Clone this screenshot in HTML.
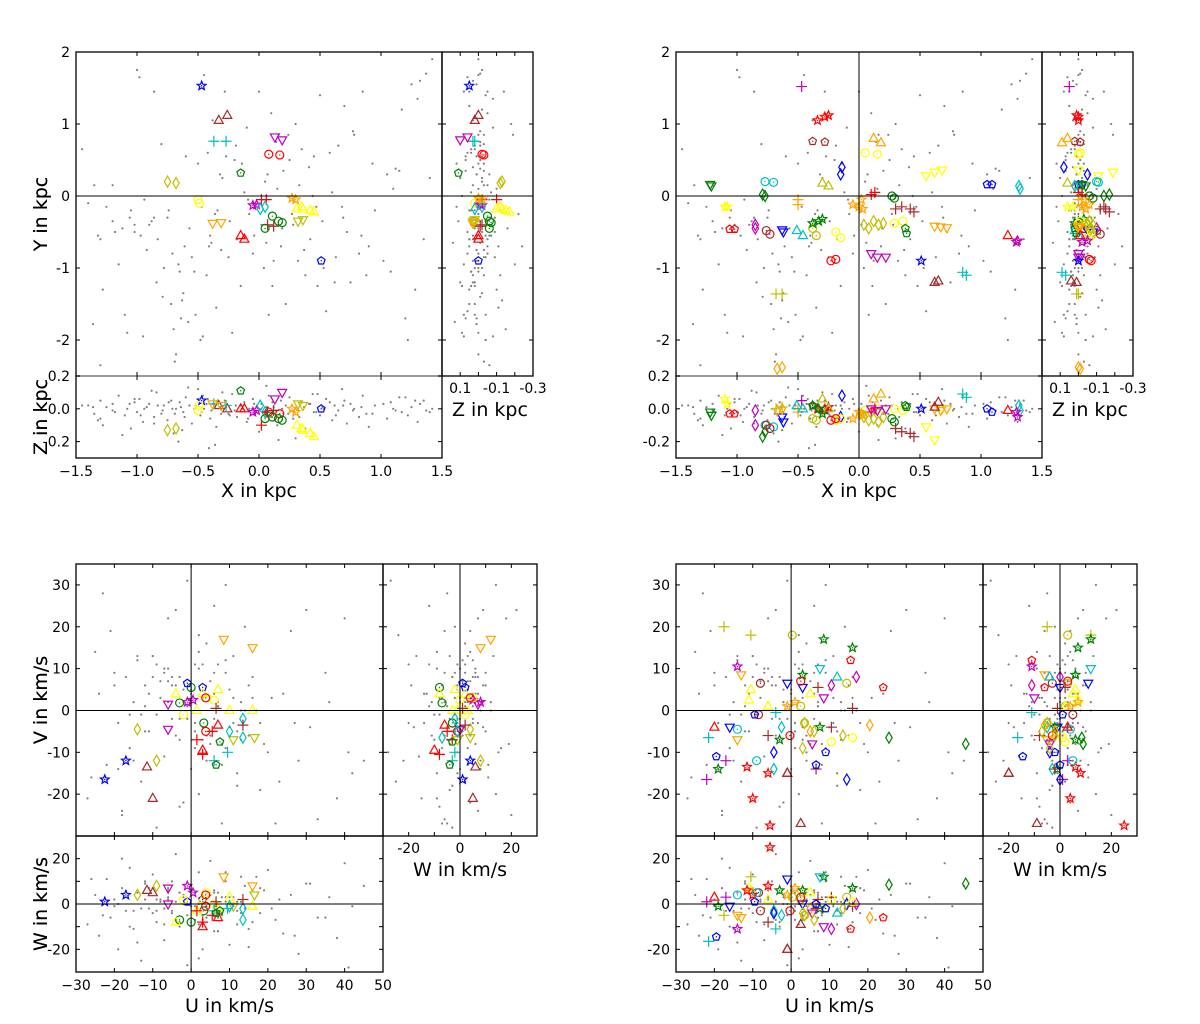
<!DOCTYPE html>
<html><head><meta charset="utf-8"><style>
html,body{margin:0;padding:0;background:#fff;}
svg{display:block;font-family:"DejaVu Sans","Liberation Sans",sans-serif;}
</style></head><body>
<svg id="chart" width="1200" height="1024" viewBox="0 0 1200 1024"></svg>
<script>
// ---------- field stars (gray) ----------
const fieldX=[-1.45,-1.35,-1.3,-1.28,-1.36,-1.3,-1.2,-1.2,-1.15,-1.1,-1.08,-1.05,-1.02,-1.0,-0.98,-0.95,-0.92,-0.9,-0.86,-0.84,-0.8,-0.78,-0.75,-0.72,-0.7,-0.68,-0.65,-0.62,-0.6,-0.55,-0.52,-0.5,-0.48,-0.45,-0.42,-0.4,-0.38,-0.35,-0.32,-0.28,-0.25,-0.22,-0.2,-0.18,-0.15,-0.12,-0.1,-0.08,-0.05,0.0,0.02,0.05,0.08,0.1,0.12,0.15,0.18,0.2,0.22,0.25,0.28,0.32,0.35,0.38,0.42,0.45,0.48,0.5,0.52,0.55,0.6,0.62,0.65,0.7,0.72,0.75,0.78,0.82,0.85,0.88,0.95,1.05,1.08,1.12,1.2,1.22,1.25,1.3,1.32,1.35,1.4,1.42,-1.12,-0.88,-0.66,-0.58,-0.36,-0.3,0.3,0.68,
-1.25,-1.18,-1.06,-0.97,-0.94,-0.83,-0.79,-0.74,-0.69,-0.64,-0.61,-0.57,-0.53,-0.47,-0.43,-0.39,-0.34,-0.31,-0.27,-0.24,-0.19,-0.14,-0.09,-0.04,0.04,0.07,0.11,0.14,0.19,0.24,0.27,0.33,0.37,0.41,0.47,0.53,0.58,0.63,0.69,0.77,0.84,0.93,1.02,1.1,1.17,1.28,1.37,-1.4,-1.32,-1.02,-0.86,-0.71,-0.63,-0.46,-0.41,0.06,0.16,0.44,0.9,1.15];
const fieldY=[0.65,0.15,-0.6,-1.3,-1.78,-2.35,0.15,-0.35,-0.95,-1.65,-1.9,-0.2,-0.4,1.75,1.65,-1.95,-0.75,-0.4,1.45,-1.2,0.72,-1.0,-0.3,-1.5,-1.85,-2.2,-1.05,-1.35,0.55,-0.85,-1.65,0.45,-2.0,1.68,0.6,-0.55,1.05,-1.55,0.3,1.45,-0.85,-1.9,0.5,-0.6,-1.25,0.05,0.95,-0.25,-0.8,1.45,-0.4,0.2,-1.65,1.15,-0.9,0.1,-0.7,0.35,-1.5,0.5,-0.4,-0.9,0.65,-1.1,-0.6,0.55,-1.25,1.4,-0.35,-1.6,0.05,-1.2,0.7,1.25,-0.5,-1.2,0.85,-0.8,1.45,-1.1,-0.2,0.3,-1.05,0.38,-1.7,-2.0,1.55,1.35,1.6,-0.6,0.25,1.9,-0.45,-0.35,-0.95,-1.75,-0.25,0.25,1.0,-0.15,
-0.15,-0.5,-0.3,-0.55,-0.05,-0.6,-1.4,-0.2,-2.3,-1.7,-0.7,-0.45,-1.05,-0.15,-1.1,-0.65,-0.2,-0.75,0.55,-0.35,0.7,0.45,-0.05,-0.55,-1.0,0.3,-1.25,0.75,-0.45,0.85,-0.25,0.15,-0.75,0.4,-0.15,-1.0,0.6,-0.85,-0.3,0.9,-0.55,0.45,-0.9,0.1,1.2,-1.3,1.7,-0.1,-0.55,-0.5,-0.3,-0.8,-1.45,-1.95,-0.7,-0.65,0.85,0.0,-0.7,0.35];
const fieldZ=[0.02,-0.03,0.05,-0.1,0.01,-0.06,0.03,-0.01,0.08,-0.04,0.0,-0.12,0.04,-0.02,0.06,-0.08,0.01,0.03,-0.05,0.1,-0.03,0.02,-0.07,0.05,-0.15,0.0,0.04,-0.02,0.07,-0.09,0.02,0.12,-0.04,0.0,0.06,-0.06,0.03,-0.11,0.01,0.05,-0.03,0.09,-0.01,-0.05,0.02,0.04,-0.08,0.0,0.06,-0.14,0.03,-0.02,0.08,-0.05,0.01,-0.1,0.05,-0.03,0.02,0.07,-0.06,0.0,0.04,-0.12,0.03,-0.02,0.09,-0.04,0.01,0.06,-0.07,0.02,-0.01,0.05,-0.09,0.03,0.0,-0.05,0.08,-0.03,0.02,-0.06,0.04,-0.01,0.07,-0.04,0.01,-0.08,0.03,0.05,-0.02,0.0,-0.16,0.11,-0.2,0.13,-0.22,0.1,-0.18,0.12,
0.01,-0.02,0.03,-0.04,0.0,0.02,-0.01,0.04,-0.03,0.01,-0.05,0.02,0.0,-0.02,0.03,-0.01,0.05,-0.03,0.01,-0.04,0.02,0.0,-0.06,0.03,-0.02,0.01,0.04,-0.01,0.0,-0.03,0.02,-0.05,0.01,0.03,-0.02,0.0,0.04,-0.04,0.02,-0.01,0.01,-0.03,0.03,0.0,-0.02,0.05,-0.01,0.02,-0.07,0.06,-0.09,0.0,-0.13,0.08,-0.24,0.14,-0.19,0.09,-0.11,0.07];
const fieldU=[-27,-25,-24,-22,-21,-20,-19,-18,-17,-16,-15,-14,-13,-12,-11,-10,-9,-8,-7,-6,-5,-4,-3,-2,-1,0,1,2,3,4,5,6,7,8,9,10,11,12,13,14,15,16,18,20,22,24,26,28,30,33,36,38,40,42,45,-26,-23,-18,-14,-9,-6,-3,-1,2,4,7,9,12,15,19,23,27,31,35,41,-20,-12,-7,-2,3,8,13,17,21,-16,-10,-4,1,6,11,
-8,-5,-3,0,2,5,7,9,-11,-13,-6,-1,3,6,8,11,-9,-4,1,4,10,14,-15,-2,2,5,12,-7,0,3,-12,-5,6,9,16,-19,-3,1,7,13,18,-10,-6,4];
const fieldV=[-21,14,4,-13,19,9,-3,-24,8,-9,2,12,-17,6,-5,13,-1,7,-11,10,-2,24,-7,5,31,-14,11,-20,3,16,-8,25,1,-27,9,-4,13,-15,2,20,-6,8,-19,-10,-27,4,19,-12,24,-26,2,-21,22,-15,-12,-16,28,-25,13,-28,22,-23,-2,18,-12,1,30,-18,6,-8,-17,-3,-4,9,-10,6,-5,10,-22,11,-13,-7,0,3,-1,8,-6,-9,4,-3,
3,8,-2,5,10,-6,2,12,4,-1,7,1,-4,9,-8,3,11,6,-3,-10,5,0,-12,2,14,7,-5,9,4,-7,1,6,-2,-9,3,-14,8,-5,11,0,-3,13,2,-6];
const fieldW=[-9,4,-14,11,-6,2,-20,7,-3,16,-11,5,-25,9,-2,13,-8,1,-16,6,-4,22,-10,3,-27,8,-1,14,-7,2,19,-12,5,-5,10,-18,3,-9,12,-2,-11,6,-4,15,-7,-13,4,-22,9,-6,3,-15,18,-1,8,11,-5,20,-17,-3,7,-8,0,-24,5,-12,14,-3,-19,6,2,-14,9,-6,-28,-1,10,-9,4,-20,3,-4,12,-2,-10,7,1,-7,5,-1,
2,-3,5,-1,0,4,-6,1,7,-2,3,-5,1,6,-4,0,2,-7,5,-1,3,8,-3,0,-9,4,1,-2,6,-5,2,10,-1,3,-8,0,5,-3,-12,1,7,-4,2,-6];

// ---------- top-left groups (X,Y,Z in kpc) ----------
const tlColor=["#0000ff","#a52a2a","#00bfbf","#bf00bf","#ff0000","#008000","#bfbf00","#ffff00","#ffa500","#ff0000","#ff0000","#bf00bf","#00bfbf","#a52a2a","#008000","#ffa500","#ffff00","#bfbf00","#0000ff"];
const tlMarker=["star","tri","plus","dtri","circle","pent","diam","circle","dtri","tri","plus","star","diam","plus","circle","star","tri","dtri","pent"];
const tlX=[[-0.47],[-0.33,-0.26],[-0.37,-0.27],[0.13,0.19],[0.08,0.17],[-0.15],[-0.75,-0.68],[-0.5,-0.49],[-0.38,-0.31],[-0.15,-0.12],[0.02,0.06],[-0.05,-0.02],[0.01,0.05],[0.07,0.12],[0.05,0.16,0.19,0.11],[0.27,0.3],[0.31,0.36,0.42,0.45,0.35],[0.32,0.36],[0.51]];
const tlY=[[1.53],[1.05,1.12],[0.76,0.76],[0.82,0.78],[0.58,0.57],[0.32],[0.2,0.18],[-0.05,-0.1],[-0.38,-0.37],[-0.55,-0.6],[-0.05,-0.05],[-0.13,-0.12],[-0.18,-0.15],[-0.4,-0.42],[-0.45,-0.35,-0.37,-0.28],[-0.03,-0.05],[-0.18,-0.18,-0.2,-0.22,-0.15],[-0.35,-0.33],[-0.9]];
const tlZ=[[0.05],[0.02,0.0],[0.03,0.02],[0.06,0.1],[-0.02,-0.03],[0.11],[-0.13,-0.12],[-0.01,0.02],[0.03,0.02],[0.0,0.0],[-0.1,-0.02],[-0.02,-0.01],[0.02,-0.02],[-0.02,-0.01],[-0.06,-0.06,-0.07,-0.05],[0.0,-0.02],[-0.1,-0.13,-0.15,-0.17,-0.12],[0.03,0.02],[0.0]];

// ---------- top-right groups ----------
const trColor=["#bf00bf","#ff0000","#a52a2a","#ffa500","#ffff00","#0000ff","#bfbf00","#ffff00","#0000ff","#00bfbf","#008000","#00bfbf","#008000","#ff0000","#008000","#ffa500","#ffff00","#ffa500","#a52a2a","#ff0000","#bf00bf","#a52a2a","#0000ff","#00bfbf","#bfbf00","#008000","#ffff00","#bfbf00","#ffff00","#008000","#ffa500","#ff0000","#bf00bf","#0000ff","#00bfbf","#a52a2a","#ff0000","#bf00bf","#bfbf00","#ffa500"];
const trMarker=["plus","star","pent","tri","circle","diam","tri","dtri","pent","diam","dtri","circle","diam","plus","circle","plus","star","star","plus","pent","diam","circle","dtri","tri","circle","star","circle","diam","circle","pent","dtri","circle","dtri","star","plus","tri","tri","star","plus","diam"];
const trX=[[-0.47],[-0.34,-0.28,-0.25],[-0.38,-0.28],[0.12,0.18],[0.05,0.15],[-0.14,-0.15],[-0.3,-0.25],[0.55,0.62,0.68],[1.05,1.09],[1.31,1.32],[-1.22,-1.21],[-0.77,-0.7],[-0.79,-0.77],[0.1,0.13],[0.27,0.29],[-0.5,-0.5],[-1.1,-1.08],[0.0,0.03,-0.05,0.02],[0.3,0.35,0.42,0.45],[-1.06,-1.02],[-0.85,-0.85],[-0.76,-0.73],[-0.63,-0.62],[-0.51,-0.46],[-0.38,-0.35],[-0.38,-0.33,-0.3],[-0.19,-0.15],[0.04,0.08,0.12,0.16,0.2],[0.29,0.36],[0.38,0.39],[0.62,0.67,0.72],[-0.23,-0.19],[0.1,0.15,0.22],[0.51],[0.85,0.88],[0.62,0.65],[1.22],[1.29,1.3],[-0.68,-0.63],[-0.67,-0.63]];
const trY=[[1.52],[1.05,1.1,1.12],[0.76,0.75],[0.8,0.74],[0.6,0.58],[0.4,0.3],[0.18,0.14],[0.28,0.33,0.36],[0.16,0.16],[0.14,0.1],[0.16,0.14],[0.2,0.19],[0.02,0.0],[0.02,0.05],[0.0,-0.03],[-0.05,-0.12],[-0.15,-0.15],[-0.15,-0.18,-0.12,-0.05],[-0.18,-0.15,-0.18,-0.22],[-0.46,-0.46],[-0.4,-0.45],[-0.48,-0.53],[-0.47,-0.5],[-0.48,-0.55],[-0.45,-0.55],[-0.38,-0.35,-0.32],[-0.5,-0.58],[-0.4,-0.45,-0.35,-0.4,-0.38],[-0.38,-0.35],[-0.45,-0.52],[-0.42,-0.43,-0.44],[-0.9,-0.88],[-0.8,-0.85,-0.85],[-0.9],[-1.06,-1.1],[-1.2,-1.18],[-0.55],[-0.64,-0.62],[-1.36,-1.36],[-2.4,-2.38]];
const trZ=[[0.05],[0.0,0.0,0.01],[0.02,-0.01],[0.06,0.09],[-0.01,0.0],[0.08,-0.05],[0.06,0.0],[-0.11,-0.19,0.0],[0.0,-0.02],[0.02,-0.01],[-0.02,-0.04],[-0.1,-0.11],[-0.17,-0.14],[-0.02,0.0],[-0.06,-0.08],[0.0,-0.02],[0.06,0.03],[-0.02,-0.04,-0.06,-0.03],[-0.12,-0.14,-0.15,-0.17],[-0.03,-0.03],[-0.01,-0.1],[-0.1,-0.12],[-0.05,-0.08],[0.02,0.0],[-0.06,-0.07],[0.02,0.0,-0.03],[-0.07,-0.06],[-0.05,-0.07,-0.06,-0.08,-0.05],[0.0,-0.01],[0.02,0.01],[0.0,-0.01,0.0],[-0.07,-0.06],[0.0,-0.01,0.0],[0.0],[0.09,0.07],[0.01,0.04],[-0.01],[-0.02,-0.05],[0.0,0.01],[-0.01,0.0]];

// ---------- bottom-left groups (U,V,W km/s) ----------
const blColor=["#0000ff","#a52a2a","#bfbf00","#bf00bf","#bf00bf","#008000","#0000ff","#ffff00","#ffff00","#ff0000","#ff0000","#ff0000","#ffa500","#bfbf00","#00bfbf","#00bfbf","#008000","#a52a2a"];
const blMarker=["star","tri","diam","dtri","star","circle","pent","tri","circle","circle","plus","tri","dtri","dtri","diam","plus","pent","plus"];
const blU=[[-22.5,-17],[-11.5,-10],[-14,-9],[-6,-6],[-1,0.5],[-3,0,3.3],[-1,3],[-4,1.5,7,10,16,3],[-2,6,4],[3.8,3.8],[1.5,5.5,3],[3,7],[8.5,16],[11,16.5],[10,13.5,13.5],[9.5,6],[6.5,7.5],[13.5,6.5]];
const blV=[[-16.5,-12],[-13.5,-21],[-4.5,-12],[1.5,-4.5],[2,2.5],[1.8,5.5,-3],[6.5,5.5],[4,0,5,0,0,4],[-1,2.5,3],[3,-5],[-7,-5,-10.5],[-9.5,-3.5],[17,15],[-7,-6.5],[-5,-6.5,-2],[-10,-12],[-13,-7.5],[-3.5,0.5]];
const blW=[[1,4],[6,5],[4,8],[7,0],[8,5],[-7,-8,-3],[1,2],[-8,-3,-2,3,-1,2],[2,0,5],[4,-1],[-3,-5,-8],[-10,-6],[12,8],[-1,4],[-1,-7,-2],[-2,-3],[-4,-3],[2,1]];

// ---------- bottom-right groups ----------
const brColor=["#bfbf00","#bfbf00","#008000","#ff0000","#bf00bf","#bf00bf","#ffa500","#a52a2a","#ffff00","#0000ff","#00bfbf","#00bfbf","#bf00bf","#bfbf00","#ff0000","#ff0000","#00bfbf","#0000ff","#008000","#ff0000","#a52a2a","#00bfbf","#00bfbf","#0000ff","#ffa500","#008000","#a52a2a","#bf00bf","#0000ff","#bfbf00","#ffff00","#ffa500"];
const brMarker=["plus","circle","star","pent","star","plus","dtri","circle","tri","dtri","dtri","tri","diam","circle","circle","tri","plus","pent","star","star","tri","circle","diam","diam","diam","diam","plus","dtri","pent","diam","circle","star"];
const brU=[[-17.5,-10.5],[0.3,2.5],[8.5,16,3],[15.5,24],[-14],[-22,-17],[-13,-14],[-8,-8.5],[-10.5,-11,-6,5],[-1,3,-16],[7.5],[12],[10.5,17],[14.5,3.5],[2.5,-0.3],[-20,-1],[-21.5,-4],[-19.5,-9.5],[-19,-3,7.5],[-11.5,-6,-10,-5.5],[-1,2.5],[-9,-14],[-4.5,-2.5],[-4.5,14.5],[20.5,5],[25.5,45.5],[6.5,10.5,16,7,-6],[5.5,8.5],[6.5,9],[3.5,6,13.5,3],[10.5,16],[1,-1]];
const brV=[[20,18],[18,1],[17,15,8.5],[12,5.5],[10.5],[-16.5,-12],[8.5,-7],[6.5,-1],[5,2.5,1,4],[6.5,5.5,-4],[10],[8],[6,8],[6.5,-3],[7,-6],[-4,-15],[-6.5,-0.5],[-11,-1],[-14,-7,-4],[-13.5,-15,-21,-27.5],[-15,-27],[-12,-4.5],[-14,-4],[-10,-16.5],[-3.5,-5],[-6.5,-8],[-14,-4,0.5,5.5,-6],[-8,3],[-13,-10],[-3,-5,-6,-9],[-7.5,-6.5],[2,1]];
const brW=[[-5,12],[3,2],[12,7,6],[-11,-6],[-11],[1,3],[-6,-5],[-3,5],[6,7,2,5],[11,0,-1],[12],[-4],[-11,0],[3,-5],[3,-3],[3,-20],[-16.5,-11],[-14.5,1],[-1,6,-2],[6,8,4,25],[-20,-9],[5,4],[-3,-5],[-4,0],[-6,-2],[8.5,9],[-2,3,-1,2,-8],[-4,-10],[0,-2],[-5,-7,-2,-4],[2,1],[7,4]];

// ---------- helpers ----------
const NS="http://www.w3.org/2000/svg";
const svg=document.getElementById("chart");
function mk(tag,attrs,parent){const e=document.createElementNS(NS,tag);for(const k in attrs)e.setAttribute(k,attrs[k]);(parent||svg).appendChild(e);return e;}
function scale(d0,d1,p0,p1){return v=>p0+(v-d0)/(d1-d0)*(p1-p0);}
function text(str,x,y,anchor,size,parent,rot){
  const t=mk("text",{x:x,y:y,"text-anchor":anchor,"font-size":size,fill:"#000"},parent);
  if(rot)t.setAttribute("transform","rotate(-90 "+x+" "+y+")");
  
  
  t.textContent=str;return t;
}
function drawMarker(g,type,cx,cy,color){
  let e;const r=4;
  if(type==="circle"){e=mk("circle",{cx:cx,cy:cy,r:r,fill:"none",stroke:color,"stroke-width":1.2},g);
    mk("circle",{cx:cx,cy:cy,r:0.7,fill:color},g);}
  else if(type==="tri"){e=mk("polygon",{points:[cx,cy-5,cx+4.5,cy+3,cx-4.5,cy+3].join(","),fill:"none",stroke:color,"stroke-width":1.2},g);}
  else if(type==="dtri"){e=mk("polygon",{points:[cx,cy+5,cx+4.5,cy-3,cx-4.5,cy-3].join(","),fill:"none",stroke:color,"stroke-width":1.2},g);}
  else if(type==="diam"){e=mk("polygon",{points:[cx,cy-5.5,cx+3.2,cy,cx,cy+5.5,cx-3.2,cy].join(","),fill:"none",stroke:color,"stroke-width":1.2},g);}
  else if(type==="plus"){e=mk("path",{d:"M"+(cx-5.5)+","+cy+"H"+(cx+5.5)+"M"+cx+","+(cy-5.5)+"V"+(cy+5.5),stroke:color,"stroke-width":1.2,fill:"none"},g);}
  else {const pts=[];
    if(type==="star"){for(let i=0;i<10;i++){const a=-Math.PI/2+i*Math.PI/5;const rr=i%2?2:4.6;pts.push(cx+rr*Math.cos(a),cy+rr*Math.sin(a));}}
    else{for(let i=0;i<5;i++){const a=-Math.PI/2+i*2*Math.PI/5;pts.push(cx+4*Math.cos(a),cy+4*Math.sin(a));}}
    e=mk("polygon",{points:pts.join(","),fill:"none",stroke:color,"stroke-width":1.2},g);
    mk("circle",{cx:cx,cy:cy,r:0.7,fill:color},g);}
  
  
}
function clipRect(id,x,y,w,h){const c=mk("clipPath",{id:id});mk("rect",{x:x,y:y,width:w,height:h},c);return "url(#"+id+")";}
function frame(x0,y0,x1,y1,name){const r=mk("rect",{x:x0,y:y0,width:x1-x0,height:y1-y0,fill:"none",stroke:"#000","stroke-width":1.3});
  
  }
function line(x0,y0,x1,y1,name,color,w){const l=mk("line",{x1:x0,y1:y0,x2:x1,y2:y1,stroke:color||"#000","stroke-width":w||1});
  
  return l;}
function ticksX(sc,vals,y0,y1,name){vals.forEach(v=>{const x=sc(v);line(x,y0,x,y0-4,name);line(x,y1,x,y1+4,name);});}
function ticksY(sc,vals,x0,x1,name){vals.forEach(v=>{const y=sc(v);line(x0,y,x0+4,y,name);line(x1,y,x1-4,y,name);});}
function scatterGray(g,xs,ys,sx,sy){for(let i=0;i<xs.length;i++){const c=mk("circle",{cx:sx(xs[i]),cy:sy(ys[i]),r:1.1,fill:"#808080"},g);
  
  }}
function scatterGroups(g,colors,markers,A,B,sa,sb){for(let k=0;k<colors.length;k++){for(let i=0;i<A[k].length;i++){drawMarker(g,markers[k],sa(A[k][i]),sb(B[k][i]),colors[k]);}}}

// ---------- position panel (XY / ZY / XZ) ----------
function positionPanel(ox,colors,markers,GX,GY,GZ,xZeroLine,pid){
  const L=76+ox,R=442+ox,T=52,M=376,B=458,ZR=533+ox;
  const sx=scale(-1.5,1.5,L,R), sy=scale(-2.5,2,M,T);
  const szx=scale(0.2,-0.3,R,ZR), szy=scale(-0.3,0.2,B,M);
  const g=mk("g",{});
  const gxy=mk("g",{"clip-path":clipRect("cxy"+pid,L,T,R-L,M-T)},g);
  
  scatterGray(gxy,fieldX,fieldY,sx,sy);
  line(L,sy(0),ZR,sy(0),"y-zero-line");
  if(xZeroLine)line(sx(0),T,sx(0),B,"x-zero-line");
  scatterGroups(gxy,colors,markers,GX,GY,sx,sy);
  const gzy=mk("g",{"clip-path":clipRect("czy"+pid,R,T,ZR-R,M-T)},g);
  
  scatterGray(gzy,fieldZ,fieldY,szx,sy);
  scatterGroups(gzy,colors,markers,GZ,GY,szx,sy);
  const gxz=mk("g",{"clip-path":clipRect("cxz"+pid,L,M,R-L,B-M)},g);
  
  scatterGray(gxz,fieldX,fieldZ,sx,szy);
  scatterGroups(gxz,colors,markers,GX,GZ,sx,szy);
  frame(L,T,R,M,"xy-frame");frame(R,T,ZR,M,"zy-frame");frame(L,M,R,B,"xz-frame");
  line(L,M,R,M,"xy-xz-divider","#999",2);
  ticksY(sy,[-2,-1,0,1,2],L,R,"y-tick");ticksY(sy,[-2,-1,0,1,2],R,ZR,"zy-y-tick");
  ticksX(sx,[-1.5,-1,-0.5,0,0.5,1,1.5],M,T,"x-tick");
  ticksX(sx,[-1.5,-1,-0.5,0,0.5,1,1.5],B,M,"xz-x-tick");
  ticksX(szx,[0.1,0,-0.1,-0.2],M,T,"z-tick");
  ticksY(szy,[-0.2,0,0.2],L,R,"xz-z-tick");
  [["2",2],["1",1],["0",0],["-1",-1],["-2",-2]].forEach(p=>{text(p[0],L-6,sy(p[1])+5,"end",14,g);});
  [["0.2",0.2],["0.0",0],["-0.2",-0.2]].forEach(p=>{text(p[0],L-6,szy(p[1])+5,"end",14,g);});
  [["\u22121.5",-1.5],["\u22121.0",-1],["\u22120.5",-0.5],["0.0",0],["0.5",0.5],["1.0",1],["1.5",1.5]].forEach(p=>{text(p[0],sx(p[1]),B+18,"middle",14,g);});
  [["0.1",0.1],["-0.1",-0.1],["-0.3",-0.3]].forEach(p=>{text(p[0],szx(p[1]),M+17,"middle",14,g);});
  text("X in kpc",(L+R)/2,B+39,"middle",19,g);
  text("Z in kpc",R+10,M+40,"start",19,g);
  text("Y in kpc",47,(T+M)/2,"middle",19,g,true);
  text("Z in kpc",47,(M+B)/2,"middle",19,g,true);
}

// ---------- velocity panel (UV / WV / UW) ----------
function velocityPanel(ox,colors,markers,GU,GV,GW,pid){
  const L=76+ox,R=383+ox,T=564,M=836,B=972,WR=537+ox;
  const su=scale(-30,50,L,R), sv=scale(-30,35,M,T);
  const swx=scale(-30,30,R,WR), swy=scale(-30,30,B,M);
  const g=mk("g",{});
  const guv=mk("g",{"clip-path":clipRect("cuv"+pid,L,T,R-L,M-T)},g);
  
  scatterGray(guv,fieldU,fieldV,su,sv);
  scatterGroups(guv,colors,markers,GU,GV,su,sv);
  const gwv=mk("g",{"clip-path":clipRect("cwv"+pid,R,T,WR-R,M-T)},g);
  
  scatterGray(gwv,fieldW,fieldV,swx,sv);
  scatterGroups(gwv,colors,markers,GW,GV,swx,sv);
  const guw=mk("g",{"clip-path":clipRect("cuw"+pid,L,M,R-L,B-M)},g);
  
  scatterGray(guw,fieldU,fieldW,su,swy);
  scatterGroups(guw,colors,markers,GU,GW,su,swy);
  line(L,sv(0),WR,sv(0),"v-zero-line");
  line(su(0),T,su(0),B,"u-zero-line");
  line(L,swy(0),R,swy(0),"w-zero-line");
  line(swx(0),T,swx(0),M,"w-zero-vline");
  frame(L,T,R,M,"uv-frame");frame(R,T,WR,M,"wv-frame");frame(L,M,R,B,"uw-frame");
  ticksY(sv,[-20,-10,0,10,20,30],L,R,"v-tick");ticksY(sv,[-20,-10,0,10,20,30],R,WR,"wv-v-tick");
  ticksX(su,[-30,-20,-10,0,10,20,30,40,50],M,T,"u-tick");ticksX(su,[-30,-20,-10,0,10,20,30,40,50],B,M,"uw-u-tick");
  ticksX(swx,[-20,-10,0,10,20],M,T,"w-tick");ticksY(swy,[-20,-10,0,10,20],L,R,"uw-w-tick");
  [-20,-10,0,10,20,30].forEach(v=>text(String(v),L-6,sv(v)+5,"end",14,g));
  [-20,0,20].forEach(v=>text(String(v),L-6,swy(v)+5,"end",14,g));
  [-30,-20,-10,0,10,20,30,40,50].forEach(v=>text(String(v).replace("-","\u2212"),su(v),B+18,"middle",14,g));
  [-20,0,20].forEach(v=>text(String(v),swx(v),M+17,"middle",14,g));
  text("U in km/s",(L+R)/2,B+40,"middle",19,g);
  text("W in km/s",(R+WR)/2,M+40,"middle",19,g);
  text("V in km/s",47,(T+M)/2,"middle",19,g,true);
  text("W in km/s",47,(M+B)/2,"middle",19,g,true);
}

positionPanel(0,tlColor,tlMarker,tlX,tlY,tlZ,false,"left");
positionPanel(600,trColor,trMarker,trX,trY,trZ,true,"right");
velocityPanel(0,blColor,blMarker,blU,blV,blW,"left");
velocityPanel(600,brColor,brMarker,brU,brV,brW,"right");
</script>
</body></html>
